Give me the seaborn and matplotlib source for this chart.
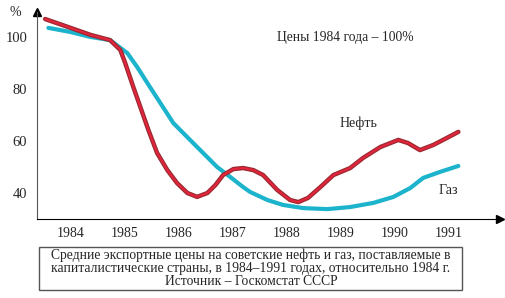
import matplotlib
matplotlib.use("Agg")
import matplotlib.pyplot as plt
import seaborn as sns
import pandas as pd
from matplotlib.patches import Rectangle

# values (year position, percent of 1984 price)
oil_x = [1983.98, 1984.45, 1984.82, 1985.18, 1985.37, 1985.46, 1985.61, 1985.74,
         1985.89, 1986.05, 1986.24, 1986.42, 1986.61, 1986.79, 1986.98, 1987.13,
         1987.27, 1987.46, 1987.64, 1987.83, 1988.01, 1988.27, 1988.51, 1988.66,
         1988.84, 1989.07, 1989.31, 1989.62, 1989.86, 1990.18, 1990.51, 1990.69,
         1990.91, 1991.16, 1991.41, 1991.62]
oil_y = [106.9, 103.5, 100.8, 98.8, 95, 90, 80.8, 73.1,
         64.2, 55.4, 48.8, 43.8, 40, 38.5, 40, 43.1,
         46.9, 49.2, 49.6, 48.8, 46.9, 41.2, 37.3, 36.5,
         38.1, 42.3, 46.9, 49.6, 53.5, 57.7, 60.4, 59.2,
         56.5, 58.5, 61.2, 63.5]

gas_x = [1984.04, 1984.45, 1984.82, 1985.18, 1985.50, 1985.68, 1985.87, 1986.11,
         1986.35, 1986.66, 1986.90, 1987.16, 1987.40, 1987.64, 1987.77, 1988.09,
         1988.38, 1988.75, 1989.20, 1989.62, 1990.05, 1990.42, 1990.73, 1990.97,
         1991.28, 1991.62]
gas_y = [103.5, 101.9, 100, 98.8, 93.8, 88.5, 82.3, 74.6,
         66.9, 60.4, 55.4, 50, 46.2, 42.3, 40.4, 37.3,
         35.4, 34.2, 33.8, 34.6, 36.2, 38.5, 41.9, 45.8,
         48.1, 50.4]

years = [1984, 1985, 1986, 1987, 1988, 1989, 1990, 1991]
y_ticks = [40, 60, 80, 100]

caption = ("Средние экспортные цены на советские нефть и газ, поставляемые в\n"
           "капиталистические страны, в 1984–1991 годах, относительно 1984 г.\n"
           "Источник – Госкомстат СССР")

sns.set_style("white")
plt.rcParams['font.family'] = ['Liberation Serif', 'DejaVu Serif']

oil = pd.DataFrame({"year": oil_x, "value": oil_y})
gas = pd.DataFrame({"year": gas_x, "value": gas_y})

W, H = 505, 298
fig = plt.figure(figsize=(W / 100, H / 100), dpi=100)
ax = fig.add_axes([37 / W, 79 / H, (500 - 37) / W, (219 - 12) / H])

sns.lineplot(data=gas, x="year", y="value", ax=ax, color="#1cb4cc", linewidth=3.0)
sns.lineplot(data=oil, x="year", y="value", ax=ax, color="#9a2a30", linewidth=3.2)
sns.lineplot(data=oil, x="year", y="value", ax=ax, color="#e3243c", linewidth=1.5)

ax.set_xlim(1983.83, 1992.39)
ax.set_ylim(30, 109.6)
ax.set_xlabel("")
ax.set_ylabel("")

for s in ["top", "right"]:
    ax.spines[s].set_visible(False)
ax.spines["left"].set_color("#555555")
ax.spines["bottom"].set_color("black")

ax.set_yticks(y_ticks)
ax.set_yticklabels([str(v) for v in y_ticks], fontsize=10.5)
ax.tick_params(axis="y", length=5, direction="out", color="#555555", pad=2)

ax.set_xticks([y + 1 for y in years])
ax.set_xticklabels([])
ax.tick_params(axis="x", which="major", length=8, direction="inout", color="#555555")
ax.set_xticks([y + 0.45 for y in years], minor=True)
ax.set_xticklabels([str(y) for y in years], minor=True, fontsize=10)
ax.tick_params(axis="x", which="minor", length=0, pad=6)

# axis arrows
ax.plot(0, 1, marker="^", color="black", markersize=6, transform=ax.transAxes, clip_on=False)
ax.plot(1, 0, marker=">", color="black", markersize=6, transform=ax.transAxes, clip_on=False)

fig.text(15 / W, 1 - 13 / H, "%", fontsize=10, ha="center", va="center")
fig.text(345 / W, 1 - 37 / H, "Цены 1984 года – 100%", fontsize=9.8, ha="center", va="center")
fig.text(358 / W, 1 - 123 / H, "Нефть", fontsize=10, ha="center", va="center")
fig.text(448 / W, 1 - 190 / H, "Газ", fontsize=10, ha="center", va="center")

box = Rectangle((39 / W, 1 - 290 / H), (462 - 39) / W, (290 - 247) / H,
                transform=fig.transFigure, fill=False, edgecolor="#555555", linewidth=1)
fig.patches.append(box)
fig.text(251 / W, 1 - 268.5 / H, caption, fontsize=9.8, ha="center", va="center",
         linespacing=1.0)

fig.savefig("out.png", dpi=100)
